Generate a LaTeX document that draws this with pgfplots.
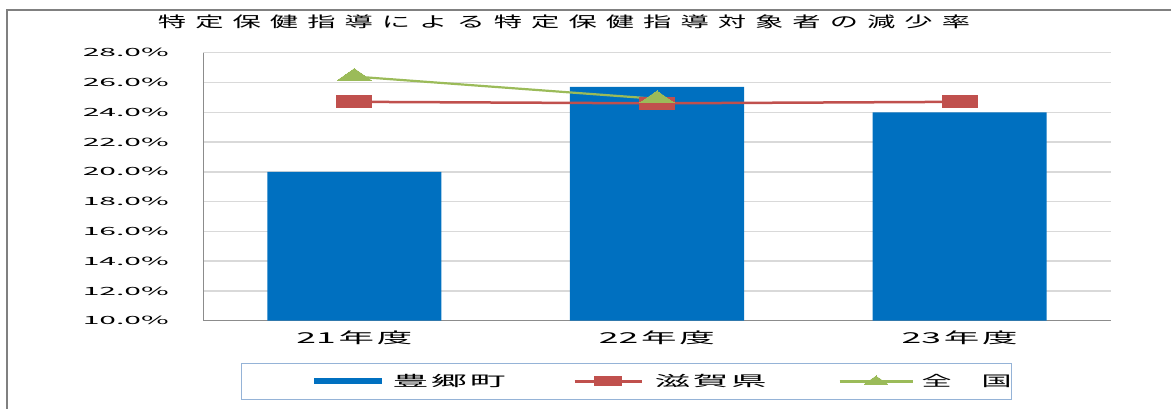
\documentclass[border=0pt]{standalone}
\usepackage{pgfplots}
\pgfplotsset{compat=1.18}
\usepackage{pgfplotstable}
\usepackage{graphicx}
\usepackage{fontspec}
\newfontfamily\cjk{Noto Sans CJK JP}

\definecolor{barblue}{RGB}{0,112,192}
\definecolor{shiga}{RGB}{192,80,77}
\definecolor{zenkoku}{RGB}{155,187,89}
\definecolor{gridgray}{RGB}{217,217,217}
\definecolor{axisgray}{RGB}{140,140,140}
\definecolor{framegray}{RGB}{128,128,128}
\definecolor{legendedge}{RGB}{149,179,215}

% text stretched horizontally to a given width
\newcommand{\wide}[2]{\resizebox{#1}{\height}{#2}}
\newcommand{\ts}{\kern0.32em}
\newcommand{\ls}{\kern0.08em}

% reduction rate (%) by fiscal year
\pgfplotstableread{
x toyosato shiga zenkoku
0 20.0 24.7 26.4
1 25.7 24.6 24.9
2 24.0 24.7 nan
}\rates

\begin{document}
\begin{tikzpicture}
\useasboundingbox (0pt,0pt) rectangle (1171pt,409pt);
\draw[framegray, line width=1.5pt] (7pt,0pt) -- (7pt,399pt) -- (1171pt,399pt);
\begin{axis}[
  at={(203pt,88.3pt)}, anchor=south west,
  scale only axis, width=908pt, height=268pt,
  xmin=-0.5, xmax=2.5, ymin=10, ymax=28,
  axis x line*=bottom, axis y line*=left,
  axis line style={axisgray, line width=1pt, -},
  major tick length=0pt,
  ytick={10,12,...,28},
  ymajorgrids, grid style={gridgray, line width=1.5pt},
  yticklabel={\wide{86pt}{\pgfmathprintnumber[fixed,fixed zerofill,precision=1,assume math mode=true]{\tick}\%}},
  yticklabel style={font=\cjk\fontsize{11.3pt}{12pt}\selectfont, anchor=east, inner sep=0pt, xshift=-34pt},
  xtick={0,1,2},
  xticklabels={\wide{116pt}{21\ls 年\ls 度},\wide{116pt}{22\ls 年\ls 度},\wide{116pt}{23\ls 年\ls 度}},
  xticklabel style={font=\cjk\fontsize{15pt}{16pt}\selectfont, anchor=center, inner sep=0pt, yshift=-17pt},
  title={\wide{812pt}{特\ts 定\ts 保\ts 健\ts 指\ts 導\ts に\ts よ\ts る\ts 特\ts 定\ts 保\ts 健\ts 指\ts 導\ts 対\ts 象\ts 者\ts の\ts 減\ts 少\ts 率}},
  title style={font=\cjk\fontsize{15pt}{16pt}\selectfont, at={(0.3976,1.092)}, anchor=center, inner sep=0pt},
  legend columns=3,
  legend style={at={(0.04185,-0.1578)}, anchor=north west, draw=legendedge, line width=1pt,
    inner xsep=0pt, inner ysep=0pt, column sep=0pt,
    font=\cjk\fontsize{14.5pt}{16pt}\selectfont,
    nodes={inner sep=0pt, anchor=west}},
]
\addplot[ybar, bar width=0.575, fill=barblue, draw=none,
  legend image code/.code={
    \path[draw=none, fill=none] (-72pt,-18pt) rectangle (79pt,18pt);
    \fill[barblue] (0pt,-3pt) rectangle (68pt,3pt);
  }] table[x=x, y=toyosato] {\rates};
\addlegendentry{\wide{113pt}{豊\ls 郷\ls 町}}

\addplot[shiga, line width=2.5pt, mark=square*, mark size=6pt,
  mark options={xscale=2.9, solid, fill=shiga, line width=0pt},
  legend image code/.code={
    \path[draw=none, fill=none] (-69pt,-18pt) rectangle (80pt,18pt);
    \draw[mark repeat=2, mark phase=2, mark size=4.5pt] plot coordinates {(0pt,0pt) (33.5pt,0pt) (67pt,0pt)};
  }] table[x=x, y=shiga] {\rates};
\addlegendentry{\wide{112pt}{滋\ls 賀\ls 県}}

\addplot[zenkoku, line width=2.2pt, mark=triangle*, mark size=8pt,
  mark options={xscale=2.5, solid, fill=zenkoku, line width=0pt},
  legend image code/.code={
    \path[draw=none, fill=none] (-73pt,-18pt) rectangle (82pt,18pt);
    \draw[mark repeat=2, mark phase=2, mark size=5.5pt] plot coordinates {(0pt,0pt) (36.5pt,0pt) (73pt,0pt)};
  }] table[x=x, y=zenkoku] {\rates};
\addlegendentry{\wide{90pt}{全　国}\hspace{71pt}}
\end{axis}
\end{tikzpicture}
\end{document}
